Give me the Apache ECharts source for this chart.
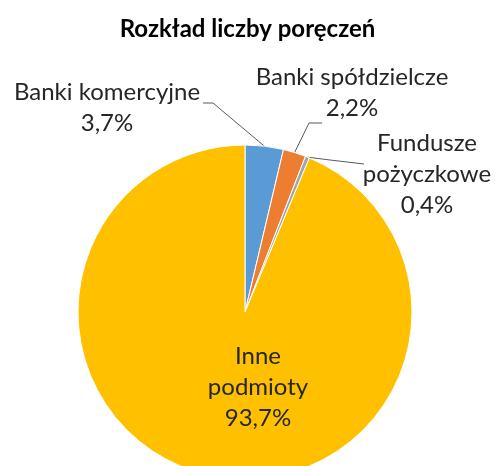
<!doctype html>
<html>
<head>
<meta charset="utf-8">
<title>Rozkład liczby poręczeń</title>
<script src="https://cdn.jsdelivr.net/npm/echarts@6/dist/echarts.min.js"></script>
<style>
html, body { margin: 0; padding: 0; background: #fff; }
#chart { width: 495px; height: 466px; }
</style>
</head>
<body>
<div id="chart"></div>
<script>
// dane
var categories = ['Banki komercyjne', 'Banki spółdzielcze', 'Fundusze pożyczkowe', 'Inne podmioty'];
var labelNames = ['Banki komercyjne', 'Banki spółdzielcze', 'Fundusze\npożyczkowe', 'Inne\npodmioty'];
var shares = [3.7, 2.2, 0.4, 93.7];
var colors = ['#5B9BD5', '#ED7D31', '#A5A5A5', '#FFC000'];

// polozenie etykiet (srodek bloku tekstu) i zalaman linii
var labelPos = [[107, 108], [352, 93], [427, 174], [258, 387]];
var linePts = [
    [[213, 103], [203, 103]],
    [[309, 123], [322, 123]],
    [[330, 160], [364, 164]],
    null
];

var chart = echarts.init(document.getElementById('chart'));

var option = {
    animation: false,
    title: {
        text: 'Rozkład liczby poręczeń',
        left: 'center',
        top: 12,
        textStyle: {
            fontFamily: 'Lato',
            fontSize: 24,
            fontWeight: 'bold',
            color: '#000'
        }
    },
    series: [{
        type: 'pie',
        center: [245, 312],
        radius: 167,
        startAngle: 90,
        clockwise: true,
        avoidLabelOverlap: false,
        itemStyle: { borderColor: '#fff', borderWidth: 1 },
        label: {
            show: true,
            position: 'outside',
            fontFamily: 'Lato',
            fontSize: 24,
            lineHeight: 31,
            color: '#262626',
            align: 'center',
            formatter: function (p) {
                return labelNames[p.dataIndex] + '\n' + p.value.toFixed(1).replace('.', ',') + '%';
            }
        },
        labelLine: {
            show: true,
            lineStyle: { color: '#595959', width: 1 }
        },
        labelLayout: function (p) {
            var i = p.dataIndex;
            var res = {
                x: labelPos[i][0],
                y: labelPos[i][1],
                align: 'center',
                verticalAlign: 'middle'
            };
            if (linePts[i] && p.labelLinePoints) {
                res.labelLinePoints = [p.labelLinePoints[0], linePts[i][0], linePts[i][1]];
            }
            return res;
        },
        data: categories.map(function (c, i) {
            var d = { name: c, value: shares[i], itemStyle: { color: colors[i] } };
            if (i === 3) d.labelLine = { show: false };
            return d;
        })
    }]
};

chart.setOption(option);
</script>
</body>
</html>
